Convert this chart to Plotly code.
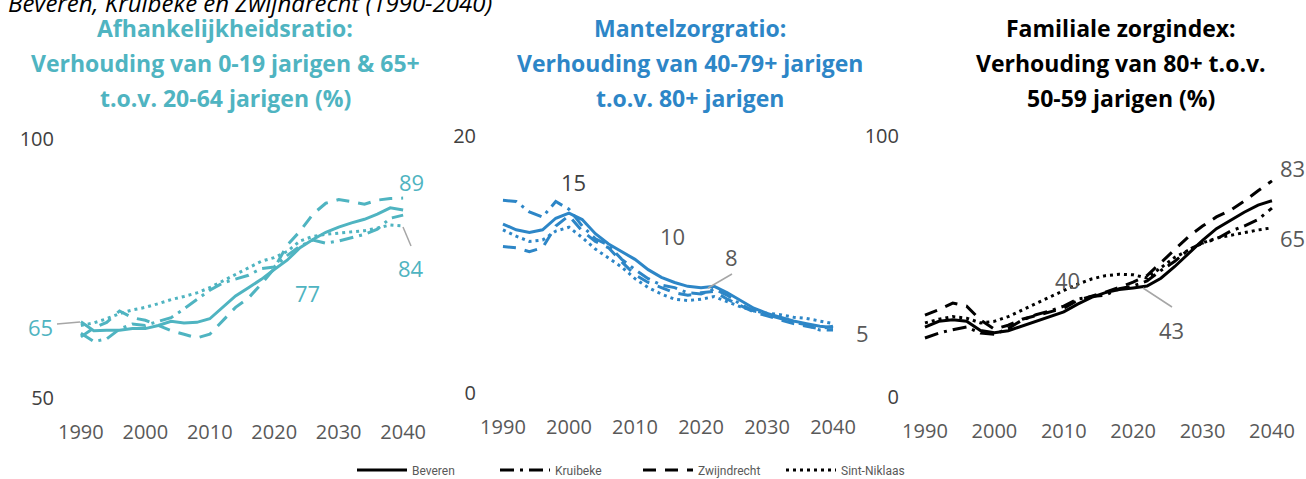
import plotly.graph_objects as go

# ---------------- data ----------------
years = list(range(1990, 2041, 2))
x_ticks = [1990, 2000, 2010, 2020, 2030, 2040]
municipalities = ["Beveren", "Kruibeke", "Zwijndrecht", "Sint-Niklaas"]

# Panel 1: Afhankelijkheidsratio (%)
afh_beveren = [64.7, 63.0, 63.1, 63.1, 63.4, 63.4, 64.0, 64.8, 64.5, 64.6, 65.3, 67.5, 69.7,
               71.3, 72.9, 74.8, 76.6, 79.0, 80.6, 82.0, 83.0, 83.8, 84.5, 85.5, 86.7, 86.3]
afh_kruibeke = [62.5, 60.9, 61.4, 63.3, 64.3, 64.0, 64.8, 65.5, 67.2, 69.0, 70.8, 72.2, 73.0,
                73.7, 75.0, 75.3, 77.5, 79.3, 80.5, 79.9, 80.3, 80.9, 81.6, 82.6, 84.7, 85.3]
afh_zwijndrecht = [61.8, 63.5, 64.6, 66.8, 65.5, 65.0, 64.0, 63.0, 62.3, 61.6, 62.3, 65.0, 67.5,
                   69.3, 72.0, 75.0, 79.5, 82.2, 85.5, 87.6, 88.3, 87.9, 87.4, 88.2, 88.5, 88.6]
afh_sintniklaas = [64.0, 64.5, 65.3, 66.3, 67.0, 67.5, 68.2, 69.0, 69.6, 70.3, 71.3, 72.6, 73.8,
                   75.2, 76.4, 77.1, 78.3, 80.3, 81.2, 81.6, 81.8, 82.0, 82.3, 82.8, 83.4, 83.2]

# Panel 2: Mantelzorgratio
man_beveren = [13.15, 12.7, 12.5, 12.7, 13.6, 14.0, 13.5, 12.4, 11.6, 11.0, 10.4, 9.6, 9.0,
               8.6, 8.3, 8.2, 8.3, 7.8, 7.2, 6.6, 6.2, 5.9, 5.6, 5.4, 5.2, 5.1]
man_kruibeke = [15.0, 14.9, 14.1, 13.7, 14.9, 14.3, 13.0, 12.0, 11.5, 10.4, 9.6, 8.9, 8.4,
                8.2, 7.8, 7.7, 8.1, 7.6, 6.9, 6.4, 6.1, 5.8, 5.5, 5.3, 4.9, 4.9]
man_zwijndrecht = [11.4, 11.3, 11.0, 11.3, 13.0, 13.8, 12.6, 11.8, 11.3, 10.2, 9.2, 8.6, 8.2,
                   7.8, 7.6, 7.8, 7.9, 7.3, 6.8, 6.3, 6.0, 5.7, 5.4, 5.2, 5.0, 5.2]
man_sintniklaas = [12.7, 12.2, 11.8, 11.9, 12.6, 12.9, 12.1, 11.2, 10.5, 9.8, 8.9, 8.2, 7.7,
                   7.3, 7.2, 7.3, 7.5, 7.1, 6.7, 6.4, 6.2, 6.1, 5.9, 5.8, 5.6, 5.4]

# Panel 3: Familiale zorgindex (%)
fam_beveren = [26.8, 29.0, 29.6, 29.0, 25.5, 24.6, 25.4, 27.2, 28.7, 30.6, 32.6, 35.6, 38.2,
               40.0, 41.2, 41.8, 42.5, 45.5, 50.0, 55.0, 60.0, 64.5, 67.8, 70.8, 73.5, 75.2]
fam_kruibeke = [22.6, 24.5, 25.8, 26.8, 24.5, 24.0, 26.2, 29.5, 31.5, 33.0, 34.8, 37.5, 38.5,
                39.0, 41.5, 42.5, 44.5, 48.5, 52.0, 56.5, 59.0, 60.5, 63.5, 65.5, 68.0, 72.4]
fam_zwijndrecht = [31.4, 33.5, 36.0, 34.8, 29.5, 26.0, 27.5, 29.8, 31.2, 32.5, 34.0, 37.0, 38.5,
                   40.2, 42.0, 44.0, 46.5, 51.5, 56.5, 61.5, 65.5, 69.0, 71.5, 75.0, 79.0, 82.8]
fam_sintniklaas = [28.4, 29.8, 30.8, 30.2, 28.4, 29.0, 30.8, 33.4, 36.0, 38.3, 40.8, 43.2, 45.2,
                   46.5, 47.0, 46.8, 45.6, 49.5, 53.5, 56.3, 59.0, 60.9, 62.0, 62.9, 64.0, 64.8]

# ---------------- styling ----------------
W, H = 1306, 479
TEAL = "#4fb4c1"
BLUE = "#2d86c7"
BLACK = "#000000"
FONT = "Open Sans, Lato, sans-serif"
DASHES = {"Beveren": "solid", "Kruibeke": "14px,6px,3px,6px",
          "Zwijndrecht": "13px,9px", "Sint-Niklaas": "3px,4px"}


def px(x):
    return x / W


def py(y):
    return 1 - y / H


panels = [
    dict(series=[afh_beveren, afh_kruibeke, afh_zwijndrecht, afh_sintniklaas], color=TEAL,
         xd=(77, 407), yd=(139, 398), xr=(1989.4, 2040.6), yr=(50, 100), yt=[50, 100]),
    dict(series=[man_beveren, man_kruibeke, man_zwijndrecht, man_sintniklaas], color=BLUE,
         xd=(499, 836), yd=(136, 393), xr=(1989.4, 2040.45), yr=(0, 20), yt=[0, 20]),
    dict(series=[fam_beveren, fam_kruibeke, fam_zwijndrecht, fam_sintniklaas], color=BLACK,
         xd=(922, 1273), yd=(136, 397), xr=(1989.57, 2040.15), yr=(0, 100), yt=[0, 100]),
]

fig = go.Figure()
layout = {}
for i, p in enumerate(panels):
    sfx = "" if i == 0 else str(i + 1)
    for name, vals in zip(municipalities, p["series"]):
        fig.add_trace(go.Scatter(
            x=years, y=vals, mode="lines", name=name,
            xaxis="x" + sfx, yaxis="y" + sfx,
            line=dict(color=p["color"], width=3, dash=DASHES[name]),
            showlegend=(i == 2), hoverinfo="skip"))
    layout["xaxis" + sfx] = dict(
        domain=[px(p["xd"][0]), px(p["xd"][1])], range=list(p["xr"]),
        anchor="y" + sfx, tickvals=x_ticks, showgrid=False, zeroline=False,
        showline=False, ticks="", ticklabelstandoff=20,
        tickfont=dict(family=FONT, size=20, color="#595959"), fixedrange=True)
    layout["yaxis" + sfx] = dict(
        domain=[py(p["yd"][1]), py(p["yd"][0])], range=list(p["yr"]),
        anchor="x" + sfx, tickvals=p["yt"], showgrid=True, gridcolor="#d9d9d9",
        gridwidth=2, zeroline=False, showline=False, ticks="", ticklabelstandoff=22,
        tickfont=dict(family=FONT, size=20, color="#404040"), fixedrange=True)

annotations = []
# main (cut-off) title
annotations.append(dict(text="<i>Beveren, Kruibeke en Zwijndrecht (1990-2040)</i>",
                        x=px(6), y=py(3), xref="paper", yref="paper", xanchor="left",
                        yanchor="middle", showarrow=False,
                        font=dict(family=FONT, size=24, color="#000000")))

titles = [
    (225, TEAL, ["Afhankelijkheidsratio:", "Verhouding van 0-19 jarigen & 65+",
                 "t.o.v. 20-64 jarigen (%)"]),
    (690, BLUE, ["Mantelzorgratio:", "Verhouding van 40-79+ jarigen",
                 "t.o.v. 80+ jarigen"]),
    (1121, BLACK, ["Familiale zorgindex:", "Verhouding van 80+ t.o.v.",
                   "50-59 jarigen (%)"]),
]
for cx, col, lines in titles:
    for ly, txt in zip([28, 63, 98], lines):
        annotations.append(dict(text="<b>" + txt + "</b>", x=px(cx), y=py(ly),
                                xref="paper", yref="paper", xanchor="center",
                                yanchor="middle", showarrow=False,
                                font=dict(family=FONT, size=23, color=col)))

labels = [
    ("65", 40, 327, TEAL), ("89", 411, 182, TEAL), ("84", 411, 268, TEAL), ("77", 307, 293, TEAL),
    ("15", 573, 182, "#404040"), ("10", 672, 236, "#595959"), ("8", 731, 257, "#595959"),
    ("5", 862, 333, "#595959"),
    ("83", 1292, 168, "#595959"), ("65", 1292, 238, "#595959"), ("40", 1067, 280, "#595959"),
    ("43", 1171, 330, "#595959"),
]
for txt, x, y, col in labels:
    annotations.append(dict(text=txt, x=px(x), y=py(y), xref="paper", yref="paper",
                            xanchor="center", yanchor="middle", showarrow=False,
                            font=dict(family=FONT, size=22, color=col)))

leaders = [((57, 324), (80, 322)), ((403, 227), (411, 246)),
           ((708, 288), (732, 274)), ((1143, 288), (1172, 307))]
shapes = [dict(type="line", xref="paper", yref="paper", x0=px(a[0]), y0=py(a[1]),
               x1=px(b[0]), y1=py(b[1]), line=dict(color="#a6a6a6", width=1.5))
          for a, b in leaders]

fig.update_layout(
    **layout,
    width=W, height=H, margin=dict(l=0, r=0, t=0, b=0, autoexpand=False),
    paper_bgcolor="white", plot_bgcolor="white",
    annotations=annotations, shapes=shapes,
    showlegend=True,
    legend=dict(orientation="h", x=px(352), y=py(470), xanchor="left", yanchor="middle",
                entrywidth=78, entrywidthmode="pixels", itemwidth=50,
                font=dict(family="Liberation Sans Narrow, Roboto, sans-serif", size=12,
                          color="#595959"), bgcolor="rgba(0,0,0,0)"),
)

fig.write_html("out.html", config={"displayModeBar": False},
               post_script="document.body.style.margin='0';document.body.style.overflow='hidden';")
